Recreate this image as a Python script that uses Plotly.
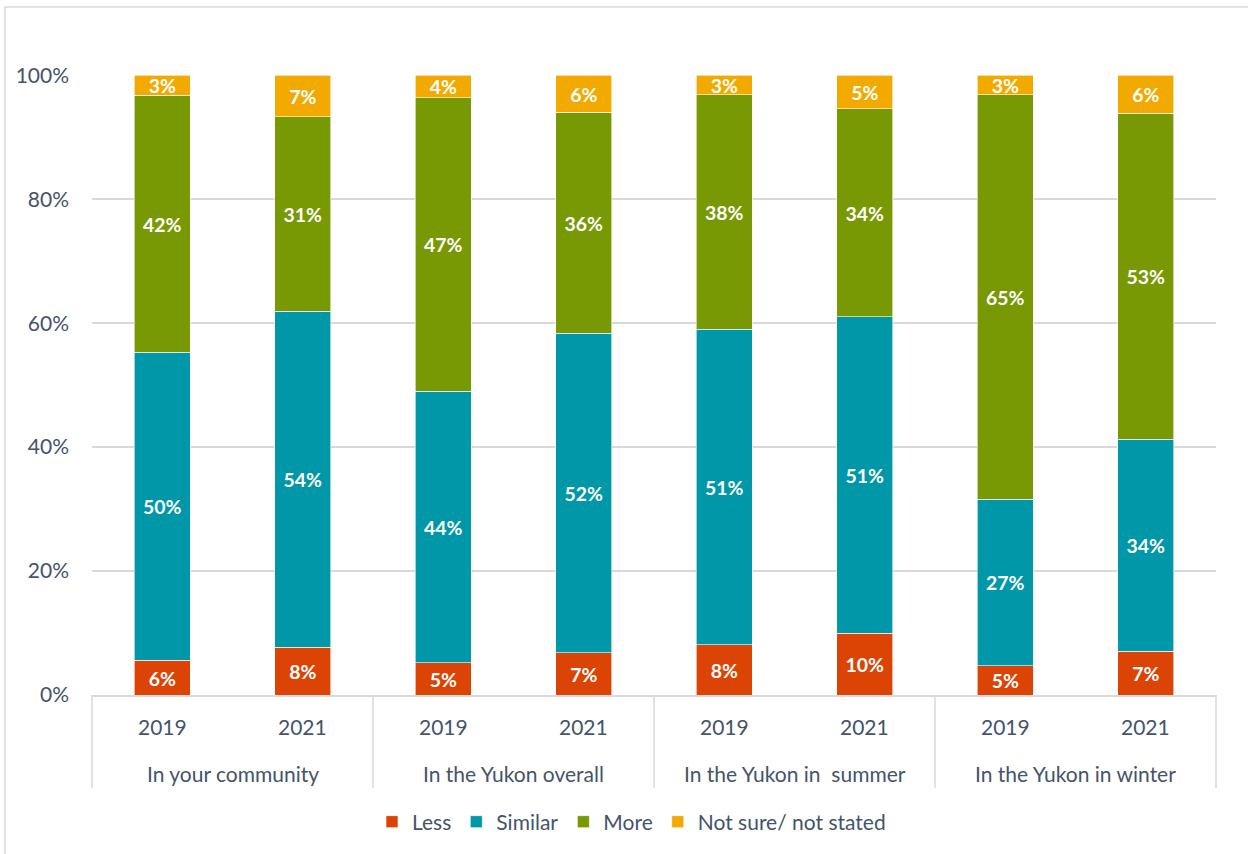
import plotly.graph_objects as go

# Survey groups and years (two-level category axis)
group_names = ["In your community", "In the Yukon overall",
               "In the Yukon in  summer", "In the Yukon in winter"]
year_names = ["2019", "2021"]
groups = [g for g in group_names for _ in year_names]
years = year_names * len(group_names)

# Share of responses (%) per answer
less = [5.6, 7.7, 5.2, 6.8, 8.1, 10.0, 4.7, 7.1]
similar = [49.7, 54.2, 43.8, 51.6, 50.9, 51.0, 26.9, 34.2]
more = [41.5, 31.4, 47.4, 35.6, 37.9, 33.6, 65.3, 52.6]
not_sure = [3.2, 6.7, 3.6, 6.0, 3.1, 5.4, 3.1, 6.1]

series = [
    ("Less", less, "#DC4405"),
    ("Similar", similar, "#0097A9"),
    ("More", more, "#789904"),
    ("Not sure/ not stated", not_sure, "#F2AA00"),
]

FONT = "Lato"
TXT = "#44546A"
GRID = "#D9D9D9"

fig = go.Figure()
for name, vals, color in series:
    fig.add_trace(go.Bar(
        name=name,
        x=[groups, years],
        y=vals,
        marker=dict(color=color, line=dict(color="white", width=0.6)),
        text=[f"{round(v):.0f}%" for v in vals],
        textposition="inside",
        insidetextanchor="middle",
        textangle=0,
        textfont=dict(family=FONT, size=21, color="white", weight="bold"),
        cliponaxis=False,
        hovertemplate="%{y:.0f}%<extra>" + name + "</extra>",
    ))

L, R, T, B = 92, 32, 75, 159
W, H = 1248, 854
pw, ph = W - L - R, H - T - B

# light frame around the chart area
fig.add_shape(type="rect", xref="paper", yref="paper",
              x0=(5 - L) / pw, x1=(W + 5 - L) / pw,
              y0=-(H + 5 - T - ph) / ph, y1=1 + (T - 7) / ph,
              line=dict(color=GRID, width=1.5), layer="below")

# group dividers below the category axis
n_cat = len(groups)
n_grp = len(group_names)
for k in range(n_grp + 1):
    fig.add_shape(type="line", xref="paper", yref="paper",
                  x0=k / n_grp, x1=k / n_grp, y0=0, y1=-93 / ph,
                  line=dict(color=GRID, width=1.5))

# two-level category labels
for i, yr in enumerate(years):
    fig.add_annotation(text=yr, xref="paper", yref="paper",
                       x=(i + 0.5) / n_cat, y=-31 / ph, showarrow=False,
                       xanchor="center", yanchor="middle",
                       font=dict(family=FONT, size=21, color=TXT))
for k, g in enumerate(group_names):
    fig.add_annotation(text=g, xref="paper", yref="paper",
                       x=(k + 0.5) / n_grp, y=-78 / ph, showarrow=False,
                       xanchor="center", yanchor="middle",
                       font=dict(family=FONT, size=21, color=TXT))

fig.update_layout(
    barmode="stack",
    bargap=0.6,
    width=W, height=H,
    margin=dict(l=L, r=R, t=T, b=B),
    paper_bgcolor="white",
    plot_bgcolor="white",
    font=dict(family=FONT, color=TXT, size=21),
    uniformtext=dict(mode="show", minsize=19),
    showlegend=True,
    legend=dict(orientation="h", x=0.48, xanchor="center", y=-127 / ph, yanchor="middle",
                font=dict(family=FONT, size=21, color=TXT), traceorder="normal",
                itemwidth=30),
    xaxis=dict(
        type="multicategory",
        showline=True, linecolor=GRID, linewidth=1.5,
        showdividers=False, showticklabels=False,
        ticks="",
    ),
    yaxis=dict(
        range=[0, 100.05],
        tickvals=[0, 20, 40, 60, 80, 100],
        ticktext=["0%", "20%", "40%", "60%", "80%", "100%"],
        showgrid=True, gridcolor=GRID, gridwidth=1.5,
        zeroline=False, showline=False,
        tickfont=dict(family=FONT, size=21, color=TXT),
        ticklabelstandoff=22,
    ),
)

fig.write_html("out.html")
